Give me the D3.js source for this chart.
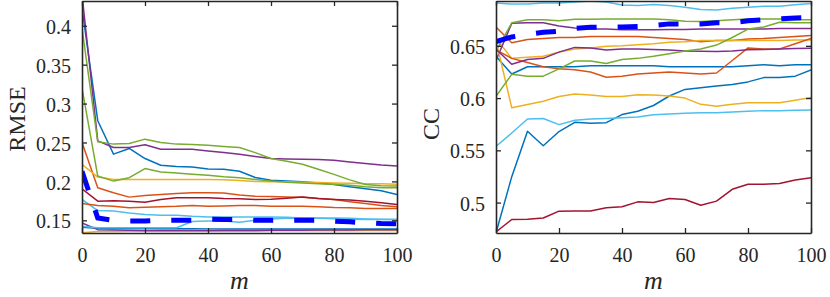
<!DOCTYPE html>
<html>
<head>
<meta charset="utf-8">
<script src="https://cdn.jsdelivr.net/npm/d3@7"></script>
<style>
  body { margin: 0; background: #fff; }
  text { font-family: "Liberation Serif", "Times New Roman", serif; fill: #262626; }
</style>
</head>
<body>
<div id="chart"></div>
<script>
// x values (m)
var mValues = d3.range(0, 101, 5);

// RMSE series (left panel), MATLAB colour order
var rmBlue1 = [0.4224, 0.278, 0.235, 0.2423, 0.2294, 0.2207, 0.219, 0.2185, 0.216, 0.2156, 0.213, 0.205, 0.2015, 0.2005, 0.1995, 0.198, 0.196, 0.193, 0.1906, 0.188, 0.1832];
var rmOrange1 = [0.250, 0.1919, 0.1854, 0.1798, 0.182, 0.1833, 0.1845, 0.1854, 0.1854, 0.185, 0.1825, 0.181, 0.1805, 0.180, 0.1795, 0.178, 0.1768, 0.174, 0.1716, 0.169, 0.1673];
var rmYellow1 = [0.222, 0.2056, 0.2026, 0.2026, 0.2026, 0.2026, 0.2026, 0.2026, 0.2026, 0.202, 0.201, 0.200, 0.1996, 0.1995, 0.199, 0.1985, 0.198, 0.1975, 0.197, 0.197, 0.1962];
var rmPurple1 = [0.44, 0.2521, 0.2436, 0.2436, 0.247, 0.2414, 0.2414, 0.2414, 0.2392, 0.237, 0.235, 0.232, 0.2294, 0.2288, 0.2285, 0.228, 0.2272, 0.225, 0.2229, 0.221, 0.2198];
var rmGreen1 = [0.3966, 0.2508, 0.2479, 0.2487, 0.2543, 0.250, 0.2479, 0.2475, 0.2466, 0.245, 0.2436, 0.237, 0.2294, 0.226, 0.222, 0.2155, 0.209, 0.202, 0.196, 0.1945, 0.194];
var rmLightBlue1 = [0.1768, 0.1625, 0.1621, 0.1595, 0.1574, 0.1565, 0.1565, 0.1552, 0.1544, 0.1544, 0.1544, 0.1544, 0.1544, 0.154, 0.153, 0.153, 0.153, 0.1525, 0.1518, 0.1514, 0.151];
var rmDarkRed = [0.1906, 0.1746, 0.175, 0.1746, 0.1733, 0.1768, 0.179, 0.179, 0.179, 0.178, 0.1777, 0.1768, 0.177, 0.1785, 0.1798, 0.178, 0.1768, 0.176, 0.1746, 0.1725, 0.1703];
var rmBlue2 = [0.141, 0.1397, 0.1395, 0.1395, 0.1395, 0.1393, 0.1393, 0.1393, 0.139, 0.139, 0.139, 0.139, 0.139, 0.139, 0.139, 0.139, 0.139, 0.139, 0.139, 0.139, 0.139];
var rmOrange2 = [0.1716, 0.169, 0.168, 0.166, 0.1668, 0.1675, 0.168, 0.169, 0.168, 0.1685, 0.169, 0.169, 0.168, 0.168, 0.168, 0.1675, 0.1665, 0.166, 0.1651, 0.1651, 0.1651];
var rmYellow2 = [0.134, 0.1355, 0.1355, 0.136, 0.136, 0.136, 0.136, 0.136, 0.136, 0.1362, 0.1362, 0.1362, 0.1365, 0.1365, 0.1365, 0.1365, 0.1365, 0.1365, 0.137, 0.137, 0.137];
var rmPurple2 = [0.1466, 0.138, 0.1375, 0.1372, 0.137, 0.137, 0.137, 0.137, 0.137, 0.137, 0.137, 0.137, 0.1372, 0.1372, 0.1372, 0.1375, 0.1375, 0.1375, 0.1378, 0.138, 0.138];
var rmGreen2 = [0.3199, 0.2069, 0.2004, 0.2048, 0.2165, 0.2121, 0.2108, 0.2091, 0.2078, 0.206, 0.2048, 0.2025, 0.2004, 0.199, 0.198, 0.197, 0.1962, 0.195, 0.193, 0.192, 0.1919];
var rmLightBlue2 = [0.1423, 0.1405, 0.1405, 0.1405, 0.1405, 0.1405, 0.1405, 0.1485, 0.149, 0.149, 0.1475, 0.150, 0.1518, 0.1525, 0.153, 0.1525, 0.152, 0.1515, 0.151, 0.151, 0.151];
var rmDashed = [0.213, 0.153, 0.150, 0.149, 0.149, 0.150, 0.150, 0.150, 0.1515, 0.151, 0.151, 0.150, 0.150, 0.150, 0.150, 0.150, 0.149, 0.148, 0.147, 0.146, 0.1455];

// CC series (right panel)
var ccBlue1 = [0.640, 0.623, 0.630, 0.630, 0.630, 0.630, 0.631, 0.631, 0.631, 0.631, 0.631, 0.630, 0.630, 0.630, 0.630, 0.630, 0.631, 0.632, 0.631, 0.632, 0.632];
var ccOrange1 = [0.668, 0.653, 0.656, 0.657, 0.658, 0.658, 0.659, 0.659, 0.659, 0.659, 0.658, 0.657, 0.656, 0.654, 0.655, 0.655, 0.6565, 0.657, 0.658, 0.659, 0.660];
var ccYellow1 = [0.657, 0.638, 0.639, 0.640, 0.644, 0.647, 0.648, 0.6495, 0.650, 0.651, 0.652, 0.6535, 0.654, 0.655, 0.655, 0.655, 0.655, 0.655, 0.655, 0.6555, 0.6555];
var ccPurple1 = [0.636, 0.6715, 0.672, 0.672, 0.669, 0.667, 0.666, 0.666, 0.6655, 0.6655, 0.6655, 0.6657, 0.6657, 0.666, 0.666, 0.666, 0.666, 0.666, 0.6665, 0.6665, 0.6667];
var ccGreen1 = [0.645, 0.672, 0.675, 0.675, 0.674, 0.6755, 0.6755, 0.6757, 0.6757, 0.6757, 0.6757, 0.675, 0.6735, 0.6733, 0.674, 0.675, 0.6757, 0.6757, 0.6757, 0.675, 0.675];
var ccLightBlue1 = [0.691, 0.690, 0.690, 0.691, 0.691, 0.692, 0.693, 0.692, 0.689, 0.6885, 0.6895, 0.6885, 0.687, 0.6847, 0.6844, 0.686, 0.687, 0.6878, 0.6878, 0.6892, 0.6904];
var ccDarkRed = [0.472, 0.4838, 0.484, 0.4853, 0.4918, 0.492, 0.492, 0.495, 0.496, 0.5007, 0.5001, 0.504, 0.503, 0.4975, 0.5014, 0.5127, 0.5175, 0.5175, 0.5182, 0.5216, 0.5238];
var ccBlue2 = [0.471, 0.5248, 0.5682, 0.5544, 0.568, 0.5768, 0.576, 0.5765, 0.5842, 0.5874, 0.5929, 0.602, 0.6083, 0.610, 0.6115, 0.6131, 0.6155, 0.6196, 0.6196, 0.621, 0.627];
var ccOrange2 = [0.646, 0.638, 0.634, 0.630, 0.628, 0.627, 0.625, 0.620, 0.621, 0.623, 0.624, 0.625, 0.624, 0.623, 0.624, 0.636, 0.648, 0.647, 0.647, 0.652, 0.657];
var ccYellow2 = [0.655, 0.5907, 0.5939, 0.597, 0.6015, 0.604, 0.603, 0.6015, 0.6015, 0.6033, 0.603, 0.602, 0.600, 0.594, 0.5923, 0.594, 0.5955, 0.5955, 0.5955, 0.598, 0.6006];
var ccPurple2 = [0.6468, 0.6324, 0.637, 0.638, 0.644, 0.6485, 0.648, 0.646, 0.647, 0.647, 0.6465, 0.646, 0.645, 0.6448, 0.6446, 0.645, 0.6463, 0.6465, 0.647, 0.6475, 0.6478];
var ccGreen2 = [0.6018, 0.6227, 0.621, 0.621, 0.628, 0.6355, 0.6355, 0.633, 0.637, 0.638, 0.640, 0.6425, 0.645, 0.647, 0.6507, 0.658, 0.666, 0.668, 0.6725, 0.672, 0.672];
var ccLightBlue2 = [0.5537, 0.5666, 0.580, 0.5805, 0.5746, 0.5788, 0.580, 0.5805, 0.5813, 0.582, 0.584, 0.5848, 0.5855, 0.586, 0.586, 0.5868, 0.5875, 0.588, 0.588, 0.5883, 0.5886];
var ccDashed = [0.654, 0.6585, 0.661, 0.663, 0.664, 0.6667, 0.6677, 0.6677, 0.668, 0.6685, 0.6695, 0.671, 0.671, 0.671, 0.672, 0.672, 0.674, 0.675, 0.6757, 0.6767, 0.677];

var xTicks = [0, 20, 40, 60, 80, 100];
var rmTicks = [0.15, 0.2, 0.25, 0.3, 0.35, 0.4];
var ccTicks = [0.5, 0.55, 0.6, 0.65];

var colors = ["#0072BD", "#D95319", "#EDB120", "#7E2F8E", "#77AC30", "#4DBEEE", "#A2142F"];

var svgWidth = 830;
var svgHeight = 297;
var plotTop = 1, plotBottom = 233;

var svg = d3.select("#chart")
  .append("svg")
  .attr("width", svgWidth)
  .attr("height", svgHeight);

function drawPanel(id, left, right, yDomain, yTicks, series, dashed, yLabel, yLabelX, yLabelY) {
  var xScale = d3.scaleLinear().domain([0, 100]).range([left, right]);
  var yScale = d3.scaleLinear().domain(yDomain).range([plotBottom, plotTop]);

  svg.append("clipPath")
    .attr("id", id)
    .append("rect")
    .attr("x", left)
    .attr("y", plotTop)
    .attr("width", right - left)
    .attr("height", plotBottom - plotTop);

  var line = d3.line()
    .x((d, i) => xScale(mValues[i]))
    .y(d => yScale(d));

  var plot = svg.append("g").attr("clip-path", `url(#${id})`);

  plot.selectAll(".series")
    .data(series)
    .enter()
    .append("path")
    .attr("d", line)
    .attr("fill", "none")
    .attr("stroke", (d, i) => colors[i % colors.length])
    .attr("stroke-width", 1.5)
    .attr("stroke-linejoin", "round");

  plot.append("path")
    .attr("d", line(dashed))
    .attr("fill", "none")
    .attr("stroke", "#0000FF")
    .attr("stroke-width", 5)
    .attr("stroke-dasharray", "20,21");

  // axes, ticks pointing inward on all four sides
  var xAxis = d3.axisBottom(xScale).tickValues(xTicks).tickSize(-5).tickSizeOuter(0).tickPadding(15);
  var xAxisTop = d3.axisTop(xScale).tickValues(xTicks).tickSize(-5).tickSizeOuter(0).tickFormat("");
  var yAxis = d3.axisLeft(yScale).tickValues(yTicks).tickSize(-5).tickSizeOuter(0).tickPadding(11).tickFormat(d3.format(""));
  var yAxisRight = d3.axisRight(yScale).tickValues(yTicks).tickSize(-5).tickSizeOuter(0).tickFormat("");

  var axes = [
    svg.append("g").attr("transform", `translate(0, ${plotBottom})`).call(xAxis),
    svg.append("g").attr("transform", `translate(0, ${plotTop})`).call(xAxisTop),
    svg.append("g").attr("transform", `translate(${left}, 0)`).call(yAxis),
    svg.append("g").attr("transform", `translate(${right}, 0)`).call(yAxisRight)
  ];
  axes.forEach(function(a) {
    a.selectAll("path").attr("stroke", "#262626").attr("stroke-width", 1.6);
    a.selectAll("line").attr("stroke", "#262626").attr("stroke-width", 1.3);
    a.selectAll("text")
      .attr("fill", "#262626")
      .style("font-size", "20px")
      .style("font-family", "'Liberation Serif', serif");
  });
  axes[2].selectAll("text").attr("dy", "0.38em");

  svg.append("text")
    .attr("transform", `translate(${yLabelX}, ${yLabelY}) rotate(-90)`)
    .attr("text-anchor", "middle")
    .style("font-size", "24px")
    .text(yLabel);

  svg.append("text")
    .attr("x", (left + right) / 2)
    .attr("y", 289)
    .attr("text-anchor", "middle")
    .style("font-size", "26px")
    .style("font-style", "italic")
    .text("m");
}

drawPanel("clipRmse", 82, 397, [0.1337, 0.4318], rmTicks,
  [rmBlue1, rmOrange1, rmYellow1, rmPurple1, rmGreen1, rmLightBlue1, rmDarkRed,
   rmBlue2, rmOrange2, rmYellow2, rmPurple2, rmGreen2, rmLightBlue2],
  rmDashed, "RMSE", 25, 119);

drawPanel("clipCc", 496, 811, [0.4709, 0.6929], ccTicks,
  [ccBlue1, ccOrange1, ccYellow1, ccPurple1, ccGreen1, ccLightBlue1, ccDarkRed,
   ccBlue2, ccOrange2, ccYellow2, ccPurple2, ccGreen2, ccLightBlue2],
  ccDashed, "CC", 439, 124);
</script>
</body>
</html>
